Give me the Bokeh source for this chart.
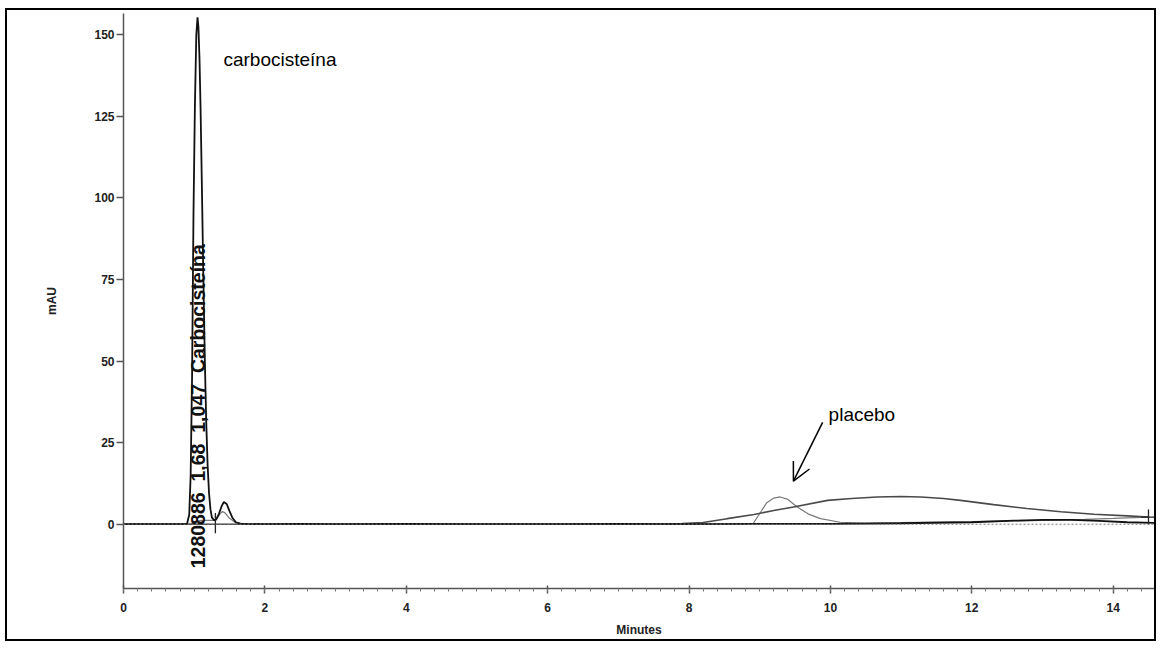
import math

from bokeh.embed import file_html
from bokeh.models import (Arrow, Label, OpenHead, Range1d,
                          SingleIntervalTicker, Span)
from bokeh.plotting import figure
from bokeh.resources import INLINE

# --- chromatogram traces (retention time in minutes, absorbance in mAU) ---
# sample trace with the carbocisteine peak
time_sample = [0.00, 0.50, 0.85, 0.90, 0.93, 0.95, 0.97, 0.99, 1.01, 1.03,
               1.047, 1.06, 1.075, 1.09, 1.11, 1.13, 1.15, 1.17,
               1.19, 1.21, 1.23, 1.25, 1.28, 1.31, 1.35, 1.39, 1.42, 1.46,
               1.50, 1.54, 1.59, 1.65, 1.75, 2.00, 2.50, 3.00, 4.00, 5.00,
               6.00, 7.00, 8.00, 9.00, 10.00, 11.00, 12.00, 12.60, 13.00,
               13.40, 13.80, 14.20, 14.58]
mau_sample = [0.0, 0.0, 0.0, 0.2, 3.0, 15.0, 45.0, 95.0, 128.0, 150.0,
              155.3, 152.3, 142.8, 127.7, 102.2, 75.2, 50.8, 31.6,
              18.1, 9.5, 4.6, 2.1, 1.2, 1.4, 3.2, 5.6, 6.8, 6.2,
              4.0, 2.0, 0.6, 0.2, 0.1, 0.0, 0.1, 0.0, 0.1, 0.0,
              0.0, 0.1, 0.0, 0.1, 0.1, 0.3, 0.6, 1.1, 1.3,
              1.3, 1.0, 0.6, 0.4]

# broad late-eluting hump
time_hump = [0.00, 7.60, 7.90, 8.20, 8.54, 8.92, 9.20, 9.48, 9.96, 10.30,
             10.66, 11.00, 11.28, 11.60, 11.84, 12.31, 12.78, 13.26, 13.73,
             14.20, 14.50]
mau_hump = [0.0, 0.0, 0.2, 0.5, 1.7, 3.0, 4.2, 5.3, 7.3, 7.9,
            8.35, 8.5, 8.35, 7.9, 7.3, 6.0, 4.8, 3.8, 3.05,
            2.55, 2.2]

# placebo trace
time_placebo = [0.00, 0.95, 1.02, 1.10, 1.28, 1.33, 1.37, 1.40, 1.44, 1.50,
                1.58, 1.70, 2.00, 5.00, 8.80, 8.91, 9.01, 9.10, 9.20, 9.29,
                9.40, 9.53, 9.70, 9.86, 10.14, 10.50, 11.00, 12.00, 13.00,
                13.60, 14.00, 14.50]
mau_placebo = [0.0, 0.0, 0.8, 1.2, 1.2, 2.0, 3.3, 3.9, 3.4, 1.8,
               0.5, 0.1, 0.0, 0.0, 0.0, 0.3, 3.6, 6.6, 8.0, 8.35,
               7.6, 5.3, 3.0, 1.7, 0.6, 0.3, 0.5, 0.8, 1.2,
               1.5, 1.8, 2.2]

# integration events
event_time = [1.30]
event_low = [-2.8]
event_high = [3.4]
end_time = [14.50]
end_mau = [2.2]

# peak table entry printed along the peak
peak_rt = [1.047]
peak_fields = ["1280886", "1,68", "1,047", "Carbocisteína"]

x_ticks_step = 2
y_ticks_step = 25

AXIS_FONT = "Liberation Sans"
TEXT_FONT = "Liberation Sans"
GAP = "\u00a0\u00a0"

p = figure(width=1147, height=629,
           x_range=Range1d(0, 14.585), y_range=Range1d(-19.7, 156.5),
           output_backend="svg", toolbar_location=None,
           min_border_left=116, min_border_right=0,
           min_border_top=3, min_border_bottom=51,
           margin=(10, 0, 0, 7),
           styles={"box-shadow": "0 0 0 2px #000"})

p.xgrid.visible = False
p.ygrid.visible = False
p.outline_line_color = None
p.background_fill_color = "white"
p.border_fill_color = "white"

# axes
p.xaxis.ticker = SingleIntervalTicker(interval=x_ticks_step, num_minor_ticks=10)
p.yaxis.ticker = SingleIntervalTicker(interval=y_ticks_step, num_minor_ticks=5)
for ax in (p.xaxis[0], p.yaxis[0]):
    ax.axis_line_color = "#555"
    ax.axis_line_width = 1.5
    ax.major_tick_line_color = "#555"
    ax.major_tick_line_width = 1.5
    ax.major_label_text_font = AXIS_FONT
    ax.major_label_text_font_style = "bold"
    ax.major_label_text_color = "#222"
    ax.axis_label_text_font = AXIS_FONT
    ax.axis_label_text_font_style = "bold"
    ax.axis_label_text_color = "#222"

p.xaxis.major_label_text_font_size = "12px"
p.xaxis.major_tick_in = 3
p.xaxis.major_tick_out = 5
p.xaxis.minor_tick_in = 0
p.xaxis.minor_tick_out = 3
p.xaxis.minor_tick_line_color = "#777"
p.xaxis.major_label_standoff = 9
p.xaxis.axis_label = "Minutes"
p.xaxis.axis_label_text_font_size = "12px"
p.xaxis.axis_label_standoff = 8

p.yaxis.major_label_text_font_size = "12px"
p.yaxis.major_tick_in = 0
p.yaxis.major_tick_out = 7
p.yaxis.minor_tick_line_color = None
p.yaxis.major_label_standoff = 2
p.yaxis.axis_label = "mAU"
p.yaxis.axis_label_text_font_size = "12px"
p.yaxis.axis_label_standoff = 32

# zero baseline
p.add_layout(Span(location=0, dimension="width", line_color="#777",
                  line_dash="2 2", line_width=1))

# traces
p.line(time_placebo, mau_placebo, line_color="#7a7a7a", line_width=1.2)
p.line(time_hump, mau_hump, line_color="#4a4a4a", line_width=1.6)
p.line(time_sample, mau_sample, line_color="#111", line_width=1.8)

# integration marks
p.segment(x0=event_time, y0=event_low, x1=event_time, y1=event_high,
          line_color="#222", line_width=1.3)
p.scatter(end_time, end_mau, marker="cross", size=15, line_color="#222",
          line_width=1.3)

# peak table text printed vertically along the peak
p.add_layout(Label(x=peak_rt[0], y=-13.5, text=GAP.join(peak_fields),
                   angle=math.pi / 2, text_align="left", text_baseline="middle",
                   text_font=TEXT_FONT, text_font_style="bold",
                   text_font_size="19.5px", text_color="#111"))

# hand annotations
p.add_layout(Label(x=1.414, y=142.5, text="carbocisteína",
                   text_font=TEXT_FONT, text_font_size="19px",
                   text_color="#000", text_baseline="alphabetic"))
p.add_layout(Label(x=9.975, y=33.5, text="placebo",
                   text_font=TEXT_FONT, text_font_size="19px",
                   text_color="#000", text_baseline="alphabetic"))
p.add_layout(Arrow(end=OpenHead(size=18, line_width=1.5, line_color="#000"),
                   x_start=9.89, y_start=31.2, x_end=9.477, y_end=13.2,
                   line_width=1.5, line_color="#000"))

open("out.html", "w").write(file_html(p, INLINE))
